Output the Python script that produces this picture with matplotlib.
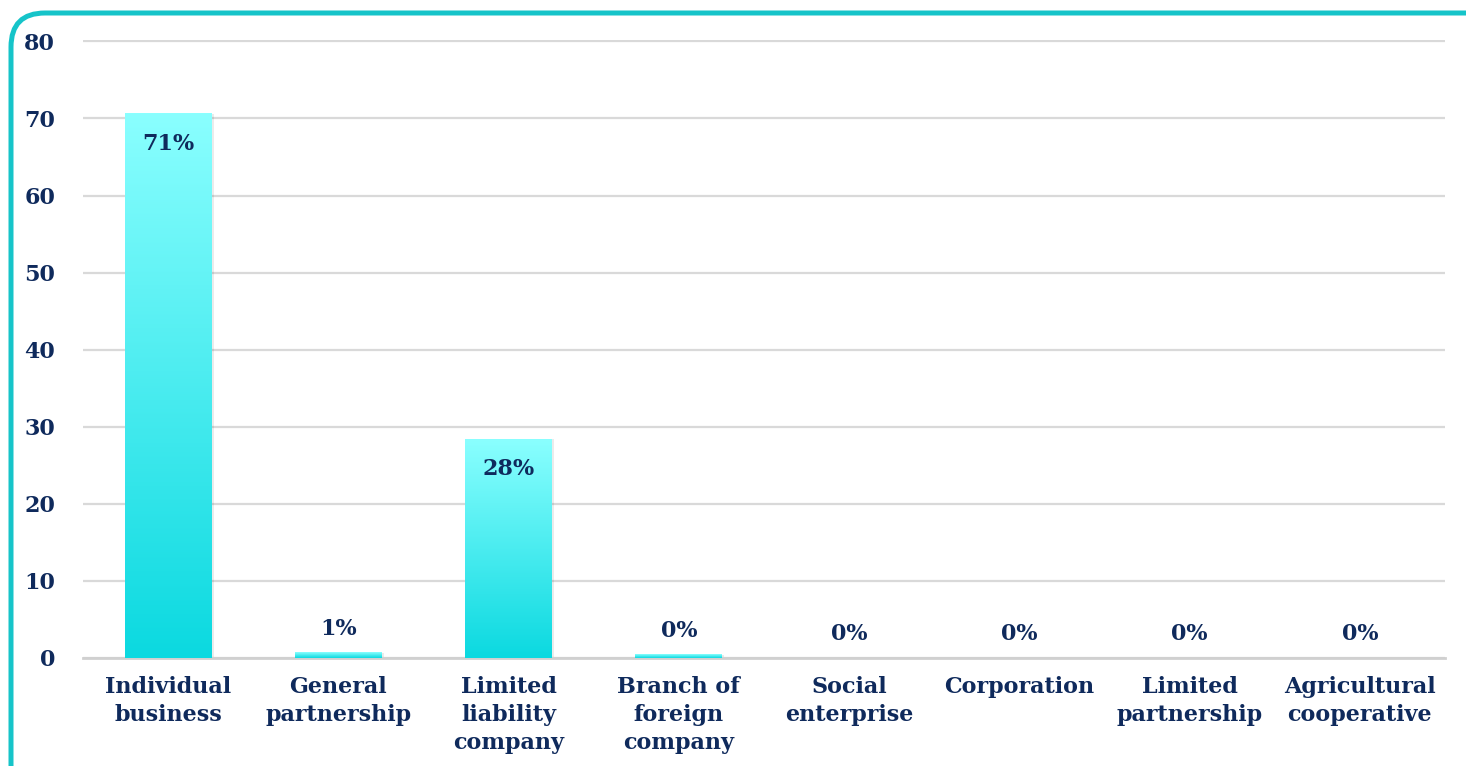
import numpy as np
import matplotlib.pyplot as plt
from matplotlib.colors import LinearSegmentedColormap
from matplotlib.patches import FancyBboxPatch, Rectangle

categories = ["Individual\nbusiness", "General\npartnership", "Limited\nliability\ncompany",
              "Branch of\nforeign\ncompany", "Social\nenterprise", "Corporation",
              "Limited\npartnership", "Agricultural\ncooperative"]
values = [70.6, 0.65, 28.4, 0.4, 0.0, 0.0, 0.0, 0.0]
yticks = [0, 10, 20, 30, 40, 50, 60, 70, 80]

navy = "#0f2a5c"
font = "DejaVu Serif"

fig = plt.figure(figsize=(14.66, 7.66), dpi=100)
ax = fig.add_axes([0.0566, 0.141, 0.929, 0.8065])

# rounded teal frame, cut off at the right and bottom edges
frame = FancyBboxPatch((11, -40), 1500, 793, boxstyle="round,pad=0,rounding_size=34",
                       transform=None, facecolor="none", edgecolor="#16c4c9",
                       linewidth=3.6, zorder=10)
fig.patches.append(frame)

x = np.arange(len(categories))
width = 0.51
cmap = LinearSegmentedColormap.from_list("bar", ["#0bd9e0", "#8affff"])
grad = np.linspace(0, 1, 256).reshape(-1, 1)

bars = ax.bar(x, values, width=width, color="none", zorder=3)
for b, v in zip(bars, values):
    if v <= 0:
        continue
    x0, w = b.get_x(), b.get_width()
    # soft shadow on the right
    ax.add_patch(Rectangle((x0 + 0.012, 0), w, v, facecolor="#000000", alpha=0.08,
                           edgecolor="none", zorder=2))
    ax.imshow(grad, extent=(x0, x0 + w, 0, v), origin="lower", cmap=cmap,
              aspect="auto", zorder=3)

for xi, v in zip(x, values):
    y = v - 3.9 if v > 5 else v + 3.1
    ax.text(xi, y, f"{v:.0f}%", ha="center", va="center", color=navy,
            fontsize=16, fontweight="bold", family=font, zorder=5)

ax.set_xlim(-0.5, 7.5)
ax.set_ylim(0, 80.15)
ax.set_yticks(yticks)
ax.set_yticklabels([str(t) for t in yticks], fontsize=16, fontweight="bold",
                   family=font, color=navy)
ax.set_xticks(x)
ax.set_xticklabels(categories, fontsize=16, fontweight="bold", family=font,
                   color=navy, linespacing=1.34)
ax.tick_params(axis="both", length=0)
ax.tick_params(axis="y", pad=20)
ax.tick_params(axis="x", pad=13)

ax.grid(axis="y", color="#d9d9d9", linewidth=1.6, zorder=0)
ax.set_axisbelow(True)
for s in ["top", "right", "left"]:
    ax.spines[s].set_visible(False)
ax.spines["bottom"].set_color("#d0d0d0")
ax.spines["bottom"].set_linewidth(2)

fig.savefig("out.png", dpi=100)
